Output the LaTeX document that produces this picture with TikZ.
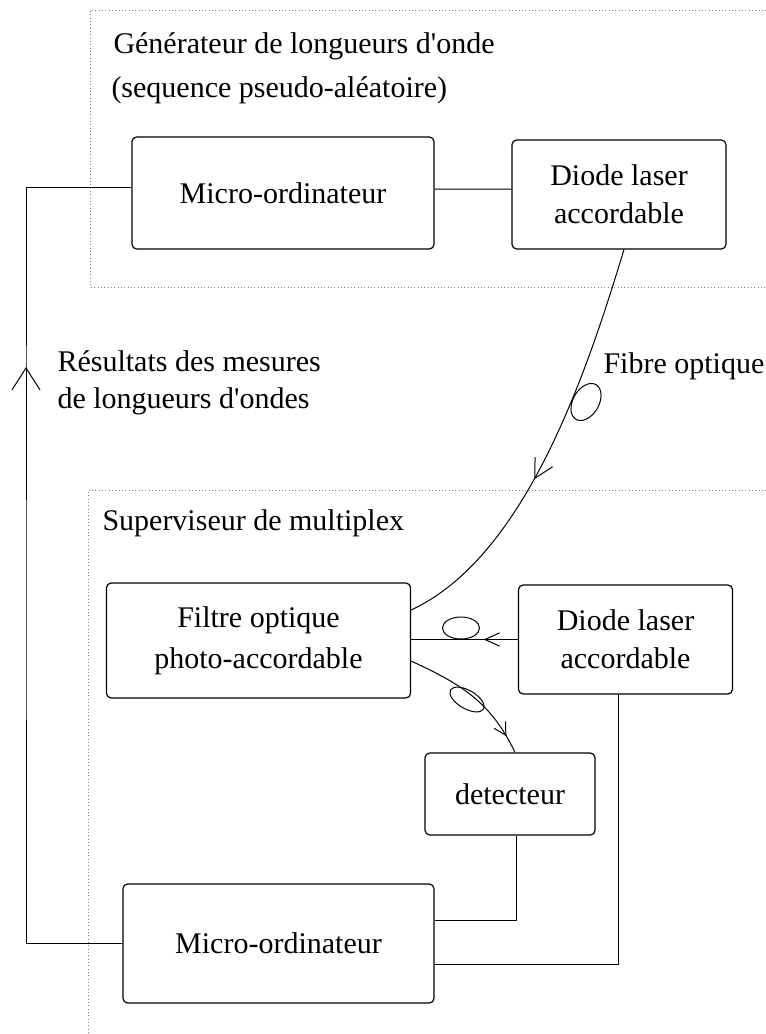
\documentclass[tikz,border=0pt]{standalone}
\usepackage{fontspec}
\setmainfont{Liberation Serif}[Ligatures=TeXOff]
\usetikzlibrary{arrows.meta,decorations.markings,shapes.geometric}

\begin{document}
\begin{tikzpicture}[x=0.75pt, y=-0.75pt, line width=0.75pt,
    every node/.style={font=\fontsize{22.5}{28.5}\selectfont},
    blok/.style={draw, rounded corners=3.5pt, line width=0.9pt, align=center, inner sep=0pt},
    txt/.style={anchor=base west, inner sep=0pt},
    zone/.style={dotted, line width=0.5pt, gray},
    bobine/.style={draw, ellipse, inner sep=0pt},
    midbarb/.style args={#1 at #2}{postaction={decorate},
        decoration={markings, mark=at position #2 with {\arrow{Straight Barb[#1]}}}}]
    \useasboundingbox (0,0) rectangle (766,1034);
    % zones en pointilles
    \draw[zone] (766,10.5) -- (90,10.5) -- (90,287) -- (766,287);
    \draw[zone] (766,490) -- (88,490) -- (88,1034);
    \node[txt] (gen) at (113,54) {Générateur de longueurs d'onde};
    \node[txt] (seq) at (111,98) {(sequence pseudo-aléatoire)};
    \node[txt] (sup) at (102,530) {Superviseur de multiplex};
    \node[txt] (res1) at (57,371) {Résultats des mesures};
    \node[txt] (res2) at (57,408) {de longueurs d'ondes};
    \node[txt] (fib) at (603,373) {Fibre optique};
    % blocs
    \node[blok, minimum width=226.5pt, minimum height=84pt] (micro1) at (283,193) {Micro-ordinateur};
    \node[blok, minimum width=160.5pt, minimum height=81.75pt] (diode1) at (619,194.5) {Diode laser\\accordable};
    \node[blok, minimum width=228pt, minimum height=86.25pt] (filtre) at (258.5,640.5) {Filtre optique\\[2pt]photo-accordable};
    \node[blok, minimum width=160.5pt, minimum height=81.75pt] (diode2) at (625.5,639.5) {Diode laser\\accordable};
    \node[blok, minimum width=127.5pt, minimum height=61.5pt] (detect) at (510,794) {detecteur};
    \node[blok, minimum width=233.25pt, minimum height=89.25pt] (micro2) at (278.5,943.5) {Micro-ordinateur};
    % bobines de fibre
    \node[bobine, minimum width=30pt, minimum height=19.5pt, rotate=60] (b1) at (586,402) {};
    \node[bobine, minimum width=27.75pt, minimum height=16.5pt] (b2) at (461,628) {};
    \node[bobine, minimum width=28.5pt, minimum height=13.8pt, rotate=-30] (b3) at (467,699.5) {};
    % liaisons
    \coordinate (loop) at (26,500);
    \coordinate (tipL) at (26,367);
    \draw ([yshift=3pt]micro1.east) -- ([yshift=4pt]diode1.west);
    \draw (micro2.west) -| (loop) |- ([yshift=3.75pt]micro1.west);
    \draw[-{Straight Barb[length=16.5pt,width=21pt]}] (loop) -- (tipL);
    \draw[midbarb={length=14pt,width=15pt} at 0.575] ([xshift=3.75pt]diode1.south)
        .. controls (589,364) and (528,556) .. ([yshift=22.9pt]filtre.east);
    \draw[midbarb={length=11pt,width=10pt} at 0.32] (diode2.west) -- (diode2.west -| filtre.east);
    \draw[midbarb={length=9pt,width=10pt} at 0.87] ([yshift=-15.4pt]filtre.east)
        .. controls (461,684) and (491,702) .. ([xshift=3.75pt]detect.north);
    \draw ([xshift=4.5pt]detect.south) |- ([yshift=16.9pt]micro2.east);
    \draw ([xshift=-4.9pt]diode2.south) |- ([yshift=-15.4pt]micro2.east);
\end{tikzpicture}
\end{document}
